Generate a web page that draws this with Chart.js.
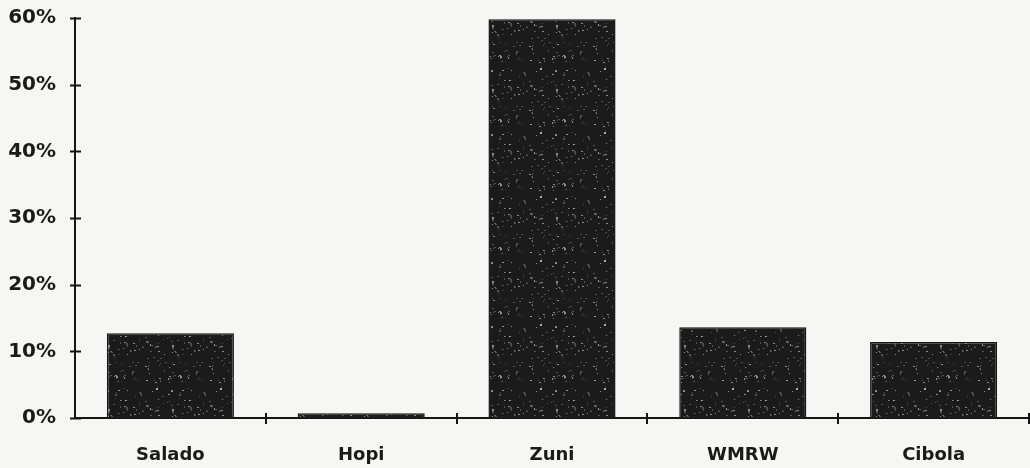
<!doctype html>
<html lang="en">
<head>
<meta charset="utf-8">
<title>Share by ware</title>
<style>
  html, body { margin: 0; padding: 0; background: #f6f6f5; }
  .wrap { width: 1030px; height: 468px; position: relative; }
</style>
</head>
<body>
<div class="wrap"><canvas id="chart"></canvas></div>
<script src="https://cdn.jsdelivr.net/npm/chart.js@4.4.4/dist/chart.umd.min.js"></script>
<script>
// Values (percent of total).
const CATEGORIES = ["Salado", "Hopi", "Zuni", "WMRW", "Cibola"];
const SHARES = [12.7, 0.7, 59.8, 13.6, 11.4];
const Y_TICKS = [0, 10, 20, 30, 40, 50, 60];

const INK = "#151515";

// Speckled dark fill like the photocopied original. Dot positions come from
// a fixed hash so the texture is identical on every run.
function speckle() {
  const c = document.createElement("canvas");
  c.width = c.height = 64;
  const g = c.getContext("2d");
  g.fillStyle = "#1b1b1b";
  g.fillRect(0, 0, 64, 64);
  let h = 12345;
  const next = () => {
    h = (Math.imul(h, 1103515245) + 12345) >>> 0;
    return (h >>> 16) & 0x7fff;
  };
  for (let i = 0; i < 120; i++) {
    const px = next() % 64;
    const py = next() % 64;
    g.fillStyle = i % 3 ? "rgba(140,140,140,.5)" : "rgba(200,200,200,.65)";
    g.fillRect(px, py, 1 + (i % 2), 1 + (i % 5 === 0 ? 1 : 0));
  }
  return g.createPattern(c, "repeat");
}

// Tick marks in the original cross the axis line, so draw them ourselves
// from the scales after the chart is laid out.
const crossTicks = {
  id: "crossTicks",
  afterDraw(chart) {
    const { ctx, scales: { x, y } } = chart;
    ctx.save();
    ctx.strokeStyle = INK;
    ctx.lineWidth = 2;
    ctx.beginPath();
    for (const v of Y_TICKS) {
      const py = Math.round(y.getPixelForValue(v)) + 0.5;
      ctx.moveTo(x.left - 5, py);
      ctx.lineTo(x.left + 6, py);
    }
    const half = (x.right - x.left) / CATEGORIES.length / 2;
    for (let i = 0; i < CATEGORIES.length; i++) {
      const px = Math.round(x.getPixelForValue(i) + half);
      ctx.moveTo(px, y.bottom - 5);
      ctx.lineTo(px, y.bottom + 6);
    }
    ctx.stroke();
    ctx.restore();
  },
};

new Chart(document.getElementById("chart"), {
  type: "bar",
  data: {
    labels: CATEGORIES,
    datasets: [{
      data: SHARES,
      backgroundColor: speckle(),
      borderColor: INK,
      borderWidth: 1.5,
      categoryPercentage: 1,
      barPercentage: 0.666,
    }],
  },
  options: {
    responsive: true, maintainAspectRatio: false, animation: false,
    layout: { padding: { top: 18, right: 1, left: 0, bottom: 0 } },
    plugins: { legend: { display: false }, tooltip: { enabled: false } },
    scales: {
      x: {
        grid: { display: false, drawTicks: false },
        border: { color: INK, width: 2 },
        ticks: {
          color: "#1a1a1a", padding: 27,
          font: { family: "DejaVu Sans", size: 18, weight: "bold" },
        },
        afterFit: (s) => { s.height = 50; },
      },
      y: {
        min: 0, max: 60,
        grid: { display: false, drawTicks: false },
        border: { color: INK, width: 2 },
        ticks: {
          stepSize: 10, padding: 19, color: "#1a1a1a",
          font: { family: "DejaVu Sans", size: 20, weight: "bold" },
          callback: (v) => v + "%",
        },
        afterFit: (s) => { s.width = 75; s.paddingTop = 0; s.paddingBottom = 0; },
      },
    },
  },
  plugins: [crossTicks],
});
</script>
</body>
</html>
